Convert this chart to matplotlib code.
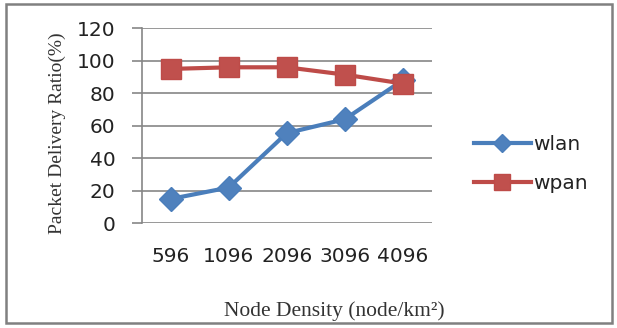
import matplotlib.pyplot as plt
from matplotlib.patches import Rectangle

# Data
densities = ['596', '1096', '2096', '3096', '4096']
wlan = [15, 22, 55.5, 64, 88]
wpan = [95, 96, 96, 91.5, 86]

fig = plt.figure(figsize=(6.17, 3.28), dpi=100)
ax = fig.add_axes([141.7 / 617, 1 - 223.3 / 328, 290 / 617, 195 / 328])

x = range(len(densities))
ax.plot(x, wlan, color='#4A7EBB', linewidth=3, marker='D', markersize=12,
        markerfacecolor='#4F81BD', markeredgecolor='#4A7EBB', label='wlan')
ax.plot(x, wpan, color='#BE4B48', linewidth=3, marker='s', markersize=15,
        markerfacecolor='#C0504D', markeredgecolor='#BE4B48', label='wpan')

ax.set_xlim(-0.5, 4.5)
ax.set_ylim(0, 120)
ax.set_yticks(range(0, 121, 20))
ax.set_xticks(list(x))
ax.set_xticklabels(densities)
ax.grid(axis='y', color='#868686', linewidth=1.2)
ax.set_axisbelow(True)

for s in ['top', 'right', 'bottom']:
    ax.spines[s].set_visible(False)
ax.spines['left'].set_color('#868686')
ax.spines['left'].set_linewidth(1.2)
ax.tick_params(axis='y', length=7, color='#868686', width=1.2, labelsize=14.5,
               pad=12, labelcolor='#222222')
ax.tick_params(axis='x', length=0, labelsize=14.5, pad=17, labelcolor='#222222')

fig.text(57 / 617, 1 - 133 / 328, 'Packet Delivery Ratio(%)', rotation=90,
         ha='center', va='center', family='Liberation Serif', fontsize=14,
         color='#333333')
fig.text(334 / 617, 1 - 311 / 328, 'Node Density (node/km²)',
         ha='center', va='center', family='Liberation Serif', fontsize=15.5,
         color='#333333')

fig.legend(loc='center left', bbox_to_anchor=(456 / 617, 1 - 164 / 328),
           frameon=False, prop={'size': 14.5}, labelcolor='#222222',
           handlelength=2.8, handletextpad=0.15, labelspacing=0.95,
           markerscale=0.8)

# grey frame around the whole chart
fig.add_artist(Rectangle((6 / 617, 1 - 323 / 328), 606 / 617, 319 / 328,
                         transform=fig.transFigure, fill=False,
                         edgecolor='#808080', linewidth=1.8))

fig.savefig('out.png', dpi=100)
